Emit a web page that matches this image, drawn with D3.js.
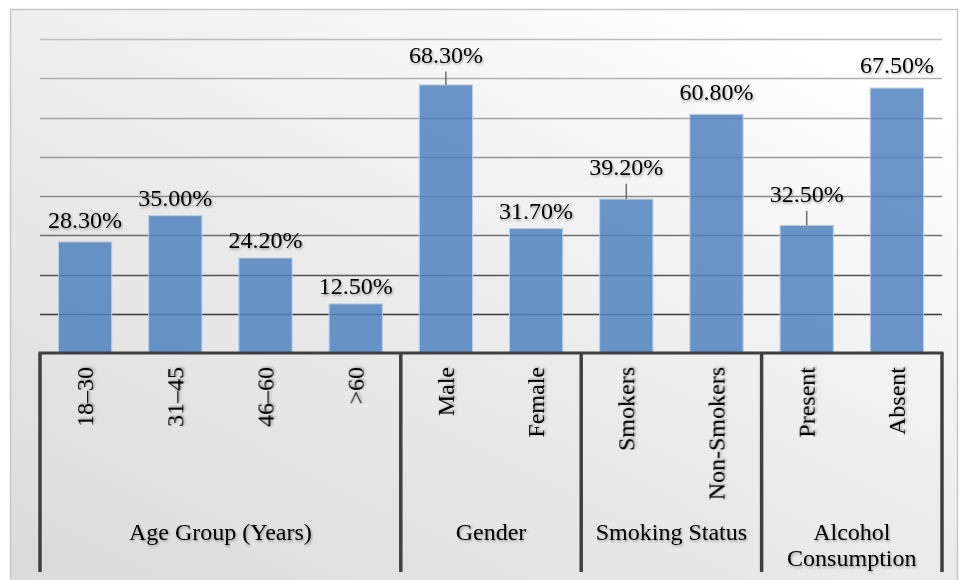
<!DOCTYPE html>
<html>
<head>
<meta charset="utf-8">
<script src="https://cdn.jsdelivr.net/npm/d3@7"></script>
<style>
  body { margin: 0; background: #fff; }
  svg { display: block; }
  text { font-family: "Liberation Serif", "Times New Roman", serif; fill: #000; }
</style>
</head>
<body>
<svg id="chart" width="959" height="580"></svg>
<script>
// categories, grouped along the x axis
const categories = ['18–30', '31–45', '46–60', '>60', 'Male', 'Female', 'Smokers', 'Non-Smokers', 'Present', 'Absent'];
const values = [28.3, 35.0, 24.2, 12.5, 68.3, 31.7, 39.2, 60.8, 32.5, 67.5];
const groupNames = [['Age Group (Years)'], ['Gender'], ['Smoking Status'], ['Alcohol', 'Consumption']];
const groupSizes = [4, 2, 2, 2];
const yTicks = [10, 20, 30, 40, 50, 60, 70, 80];

const svg = d3.select('#chart');
const plot = {left: 40, right: 942, top: 39, bottom: 353};
const fontSize = 24;

const defs = svg.append('defs');
const bg = defs.append('linearGradient').attr('id', 'bg')
    .attr('x1', '0%').attr('y1', '100%').attr('x2', '80%').attr('y2', '0%');
bg.append('stop').attr('offset', '0%').attr('stop-color', '#dadada');
bg.append('stop').attr('offset', '55%').attr('stop-color', '#ececec');
bg.append('stop').attr('offset', '100%').attr('stop-color', '#ffffff');

const shadow = defs.append('filter').attr('id', 'shadow')
    .attr('x', '-10%').attr('y', '-20%').attr('width', '130%').attr('height', '150%');
shadow.append('feDropShadow').attr('dx', 1).attr('dy', 1.5).attr('stdDeviation', 1)
    .attr('flood-color', '#000').attr('flood-opacity', 0.35);

// chart area
svg.append('rect')
    .attr('x', 10.5).attr('y', 9.5).attr('width', 947).attr('height', 590)
    .attr('fill', 'url(#bg)').attr('stroke', '#c6c6c6').attr('stroke-width', 1.5);

const x = d3.scaleBand().domain(categories).range([plot.left, plot.right]).paddingInner(0.41).paddingOuter(0.205);
const y = d3.scaleLinear().domain([0, 80]).range([plot.bottom, plot.top]);

// gridlines, darker towards the axis
const gridColor = d3.scaleLinear().domain([10, 40, 80]).range(['#3a3a3a', '#8a8a8a', '#bdbdbd']);
svg.append('g').selectAll('line').data(yTicks).enter().append('line')
    .attr('x1', plot.left).attr('x2', plot.right)
    .attr('y1', d => Math.round(y(d)) + 0.5).attr('y2', d => Math.round(y(d)) + 0.5)
    .attr('stroke', d => gridColor(d)).attr('stroke-width', 1.6);

// bars
svg.append('g').selectAll('rect').data(values).enter().append('rect')
    .attr('x', (d, i) => x(categories[i]))
    .attr('y', d => y(d))
    .attr('width', x.bandwidth())
    .attr('height', d => y(0) - y(d))
    .attr('fill', '#4f82c0').attr('fill-opacity', 0.85)
    .attr('stroke', '#b3cdee').attr('stroke-width', 1);

// data labels, a few are lifted with a leader line
const lifted = {4: 30, 6: 32, 8: 31};
const labelGap = {0: 22, 7: 22, 9: 23};
const labels = svg.append('g');
values.forEach((v, i) => {
    const cx = x(categories[i]) + x.bandwidth() / 2;
    const top = y(v);
    const off = lifted[i] || labelGap[i] || 18;
    labels.append('text')
        .attr('x', cx).attr('y', top - off)
        .attr('text-anchor', 'middle').attr('dominant-baseline', 'central')
        .attr('font-size', fontSize).attr('filter', 'url(#shadow)')
        .text(v.toFixed(2) + '%');
    if (lifted[i]) {
        labels.append('line')
            .attr('x1', cx).attr('x2', cx)
            .attr('y1', top - off + 16.5).attr('y2', top)
            .attr('stroke', '#6e6e6e').attr('stroke-width', 1.5);
    }
});

// category labels, rotated
svg.append('g').selectAll('text').data(categories).enter().append('text')
    .attr('transform', d => `translate(${x(d) + x.bandwidth() / 2},367) rotate(-90)`)
    .attr('text-anchor', 'end').attr('dominant-baseline', 'central')
    .attr('font-size', fontSize).attr('filter', 'url(#shadow)')
    .text(d => d);

// group separators and names
const step = x.step();
let start = 0;
const bounds = [0];
groupSizes.forEach(n => { start += n; bounds.push(start); });

svg.append('g').selectAll('line').data(bounds).enter().append('line')
    .attr('x1', d => plot.left + d * step).attr('x2', d => plot.left + d * step)
    .attr('y1', plot.bottom).attr('y2', 572)
    .attr('stroke', '#3f3f3f').attr('stroke-width', 3.5);

svg.append('line')
    .attr('x1', plot.left - 1.5).attr('x2', plot.right + 1.5)
    .attr('y1', plot.bottom).attr('y2', plot.bottom)
    .attr('stroke', '#3f3f3f').attr('stroke-width', 3);

groupNames.forEach((lines, g) => {
    const cx = plot.left + (bounds[g] + bounds[g + 1]) / 2 * step;
    const t = svg.append('text')
        .attr('x', cx).attr('y', 532)
        .attr('text-anchor', 'middle').attr('dominant-baseline', 'central')
        .attr('font-size', fontSize).attr('filter', 'url(#shadow)');
    lines.forEach((s, k) => {
        t.append('tspan').attr('x', cx).attr('dy', k === 0 ? 0 : 26).text(s);
    });
});
</script>
</body>
</html>
